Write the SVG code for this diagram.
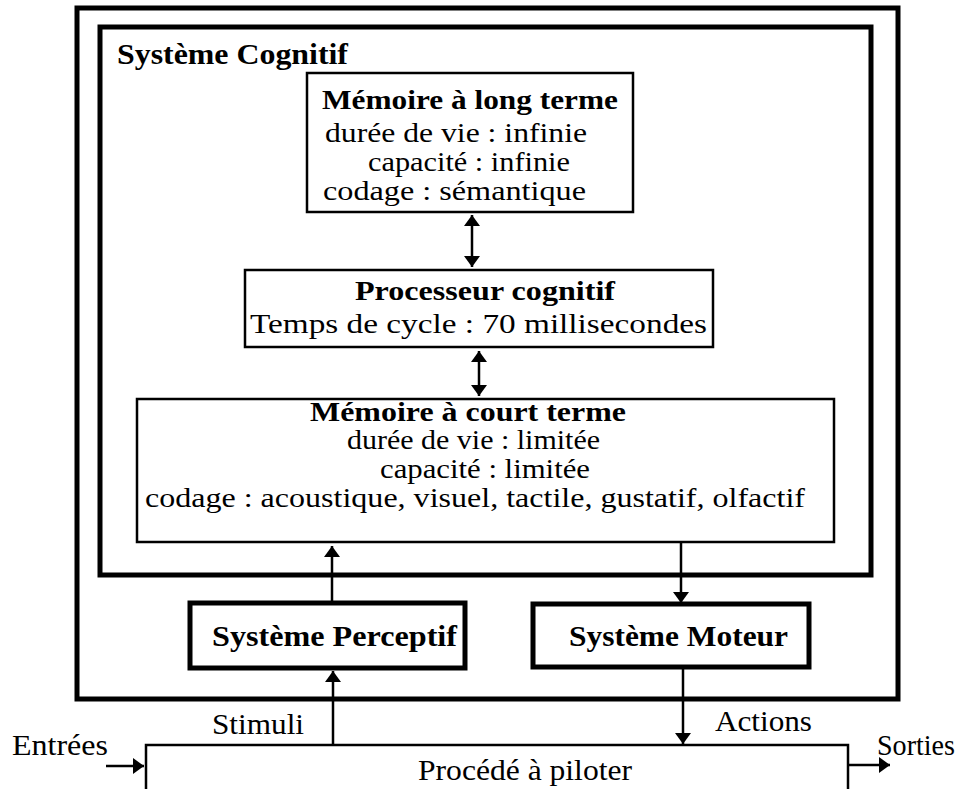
<svg xmlns="http://www.w3.org/2000/svg" width="966" height="789" viewBox="0 0 966 789">
<style>
  text { font-family: "Liberation Serif", "Times New Roman", serif; font-size: 30px; fill: #000; }
  .b { font-weight: bold; }
  .s { font-size: 27px; }
  .thick { fill: none; stroke: #000; stroke-width: 5; }
  .thin { fill: #fff; stroke: #000; stroke-width: 2.5; }
  .conn line { stroke: #000; stroke-width: 2.5; }
</style>
<defs>
  <marker id="ah" viewBox="0 0 11 16" refX="11" refY="8" markerWidth="11" markerHeight="16" markerUnits="userSpaceOnUse" orient="auto-start-reverse">
    <path d="M0,0 L11,8 L0,16 Z" fill="#000"/>
  </marker>
</defs>
<rect width="966" height="789" fill="#fff"/>

<g id="frame">
  <rect class="thick" x="77" y="8" width="821" height="691"/>
</g>
<g id="systeme-cognitif">
  <rect class="thick" x="100" y="27" width="771" height="548"/>
  <text class="b" x="117" y="64" textLength="231" lengthAdjust="spacingAndGlyphs">Système Cognitif</text>
</g>
<g id="memoire-long-terme">
  <rect class="thin" x="307" y="73" width="326" height="139"/>
  <text class="b s" x="322" y="109" textLength="296" lengthAdjust="spacingAndGlyphs">Mémoire à long terme</text>
  <text class="s" x="325" y="142" textLength="262" lengthAdjust="spacingAndGlyphs">durée de vie : infinie</text>
  <text class="s" x="368" y="171" textLength="202" lengthAdjust="spacingAndGlyphs">capacité : infinie</text>
  <text class="s" x="323" y="200" textLength="263" lengthAdjust="spacingAndGlyphs">codage : sémantique</text>
</g>
<g id="processeur-cognitif">
  <rect class="thin" x="245" y="270" width="468" height="77"/>
  <text class="b s" x="355" y="300" textLength="260" lengthAdjust="spacingAndGlyphs">Processeur cognitif</text>
  <text class="s" x="250" y="333" textLength="457" lengthAdjust="spacingAndGlyphs">Temps de cycle : 70 millisecondes</text>
</g>
<g id="memoire-court-terme">
  <rect class="thin" x="137" y="399" width="697" height="143"/>
  <text class="b s" x="310" y="421" textLength="316" lengthAdjust="spacingAndGlyphs">Mémoire à court terme</text>
  <text class="s" x="347" y="449" textLength="253" lengthAdjust="spacingAndGlyphs">durée de vie : limitée</text>
  <text class="s" x="380" y="478" textLength="210" lengthAdjust="spacingAndGlyphs">capacité : limitée</text>
  <text class="s" x="145" y="507" textLength="660" lengthAdjust="spacingAndGlyphs">codage : acoustique, visuel, tactile, gustatif, olfactif</text>
</g>
<g id="systeme-perceptif">
  <rect class="thick" x="190" y="603" width="275" height="65"/>
  <text class="b" x="212" y="646" textLength="245" lengthAdjust="spacingAndGlyphs">Système Perceptif</text>
</g>
<g id="systeme-moteur">
  <rect class="thick" x="533" y="604" width="276" height="63"/>
  <text class="b" x="569" y="646" textLength="219" lengthAdjust="spacingAndGlyphs">Système Moteur</text>
</g>
<g id="procede">
  <rect class="thin" x="146" y="745" width="702" height="60"/>
  <text x="418" y="780" textLength="214" lengthAdjust="spacingAndGlyphs">Procédé à piloter</text>
</g>
<g id="labels">
  <text x="12" y="755" textLength="96" lengthAdjust="spacingAndGlyphs">Entrées</text>
  <text x="877" y="755" textLength="78" lengthAdjust="spacingAndGlyphs">Sorties</text>
  <text x="212" y="734" textLength="92" lengthAdjust="spacingAndGlyphs">Stimuli</text>
  <text x="715" y="731" textLength="97" lengthAdjust="spacingAndGlyphs">Actions</text>
</g>
<g id="connectors" class="conn">
  <line x1="472" y1="215" x2="472" y2="267" marker-start="url(#ah)" marker-end="url(#ah)"/>
  <line x1="479" y1="351" x2="479" y2="396" marker-start="url(#ah)" marker-end="url(#ah)"/>
  <line x1="332" y1="603" x2="332" y2="546" marker-end="url(#ah)"/>
  <line x1="681" y1="542" x2="681" y2="603" marker-end="url(#ah)"/>
  <line x1="333" y1="745" x2="333" y2="671" marker-end="url(#ah)"/>
  <line x1="683" y1="667" x2="683" y2="744" marker-end="url(#ah)"/>
  <line x1="106" y1="766" x2="144" y2="766" marker-end="url(#ah)"/>
  <line x1="848" y1="765" x2="890" y2="765" marker-end="url(#ah)"/>
</g>
</svg>
